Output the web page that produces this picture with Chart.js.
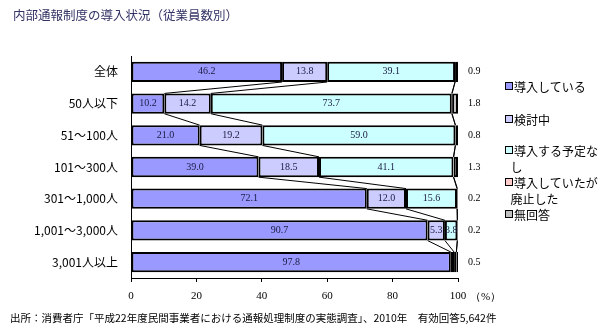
<!DOCTYPE html>
<html>
<head>
<meta charset="utf-8">
<script src="https://cdn.jsdelivr.net/npm/chart.js@4"></script>
<style>
  body { margin: 0; background: #fff; }
  #wrap { position: relative; width: 600px; height: 332px; font-family: "Noto Sans CJK JP", sans-serif; }
  #title { position: absolute; left: 13px; top: 5px; font-size: 12.5px; color: #333366; }
  #footer { position: absolute; left: 10px; top: 310px; font-size: 10.5px; color: #000; white-space: nowrap; }
  #unit { position: absolute; left: 470px; top: 289px; font-size: 11px; color: #000; font-family: "Liberation Serif", serif; }
  .leg { position: absolute; left: 505px; font-size: 12px; line-height: 16px; color: #000; white-space: nowrap; }
  .leg i { display: inline-block; width: 6px; height: 6px; border: 1px solid #000; margin-right: 1px; vertical-align: 2px; }
</style>
</head>
<body>
<div id="wrap">
  <canvas id="chart" width="600" height="332"></canvas>
  <div id="title">内部通報制度の導入状況（従業員数別）</div>
  <div id="unit">（%）</div>
  <div id="legend"></div>
  <div id="footer">出所：消費者庁「平成22年度民間事業者における通報処理制度の実態調査」、2010年　有効回答5,642件</div>
</div>
<script>
const categories = ["全体", "50人以下", "51～100人", "101～300人", "301～1,000人", "1,001～3,000人", "3,001人以上"];
const seriesNames = ["導入している", "検討中", "導入する予定なし", "導入していたが廃止した", "無回答"];
const introduced = [46.2, 10.2, 21.0, 39.0, 72.1, 90.7, 97.8];
const considering = [13.8, 14.2, 19.2, 18.5, 12.0, 5.3, 1.0];
const noPlan = [39.1, 73.7, 59.0, 41.1, 15.6, 3.8, 0.7];
const abolished = [0.0, 0.1, 0.0, 0.1, 0.1, 0.0, 0.0];
const noAnswer = [0.9, 1.8, 0.8, 1.3, 0.2, 0.2, 0.5];
const xTicks = [0, 20, 40, 60, 80, 100];

const colors = ["#9999ff", "#ccccff", "#ccffff", "#ffcccc", "#c0c0c0"];
const values = [introduced, considering, noPlan, abolished, noAnswer];

// legend (html, wrapped like the original)
const legendTops = [79, 112, 143, 175, 207];
const legendText = ["導入している", "検討中", "導入する予定な<br>&nbsp;&nbsp;し", "導入していたが<br>&nbsp;&nbsp;廃止した", "無回答"];
const legend = document.getElementById("legend");
seriesNames.forEach((name, i) => {
    const d = document.createElement("div");
    d.className = "leg";
    d.style.top = legendTops[i] + "px";
    d.innerHTML = '<i style="background:' + colors[i] + '"></i>' + legendText[i];
    legend.appendChild(d);
});

// series lines + value labels
const barExtras = {
    id: "barExtras",
    afterDatasetsDraw(chart) {
        const ctx = chart.ctx;
        ctx.save();
        // series lines between bars
        ctx.strokeStyle = "#000";
        ctx.lineWidth = 1;
        for (let d = 0; d < 4; d++) {
            const els = chart.getDatasetMeta(d).data;
            for (let j = 0; j < els.length - 1; j++) {
                const a = els[j], b = els[j + 1];
                ctx.beginPath();
                ctx.moveTo(a.x, a.y + a.height / 2);
                ctx.lineTo(b.x, b.y - b.height / 2);
                ctx.stroke();
            }
        }
        // labels
        ctx.font = "10px 'Liberation Serif', serif";
        ctx.textBaseline = "middle";
        ctx.fillStyle = "#1a1a40";
        for (let d = 0; d < 3; d++) {
            chart.getDatasetMeta(d).data.forEach((el, j) => {
                const w = el.x - el.base;
                if (w < 10) return;
                ctx.textAlign = "center";
                ctx.fillText(values[d][j].toFixed(1), (el.x + el.base) / 2, el.y);
            });
        }
        ctx.fillStyle = "#000";
        ctx.textAlign = "left";
        chart.getDatasetMeta(4).data.forEach((el, j) => {
            ctx.fillText(noAnswer[j].toFixed(1), chart.chartArea.right + 10, el.y);
        });
        ctx.restore();
    }
};

new Chart(document.getElementById("chart"), {
    type: "bar",
    data: {
        labels: categories,
        datasets: seriesNames.map((name, i) => ({
            label: name,
            data: values[i],
            backgroundColor: colors[i],
            borderColor: "#000",
            borderWidth: 2,
            borderSkipped: false,
            barPercentage: 0.64,
            categoryPercentage: 1.0,
        })),
    },
    options: {
        indexAxis: "y",
        responsive: false,
        animation: false,
        layout: { padding: { top: 56, right: 142, left: 0, bottom: 0 } },
        plugins: { legend: { display: false }, tooltip: { enabled: false } },
        scales: {
            x: {
                stacked: true,
                min: 0,
                max: 100,
                afterBuildTicks: (scale) => { scale.ticks = xTicks.map((v) => ({ value: v })); },
                afterFit: (scale) => { scale.height = 54; },
                grid: { drawOnChartArea: false, drawTicks: true, tickLength: 4, color: "#000" },
                border: { color: "#000", width: 1 },
                ticks: { color: "#000", padding: 8, font: { family: "'Liberation Serif', serif", size: 11 } },
            },
            y: {
                stacked: true,
                afterFit: (scale) => { scale.width = 131; },
                grid: { display: false, drawTicks: false },
                border: { color: "#000", width: 1 },
                ticks: { color: "#000", padding: 13, font: { family: "'Noto Sans CJK JP', sans-serif", size: 12 } },
            },
        },
    },
    plugins: [barExtras],
});
</script>
</body>
</html>
